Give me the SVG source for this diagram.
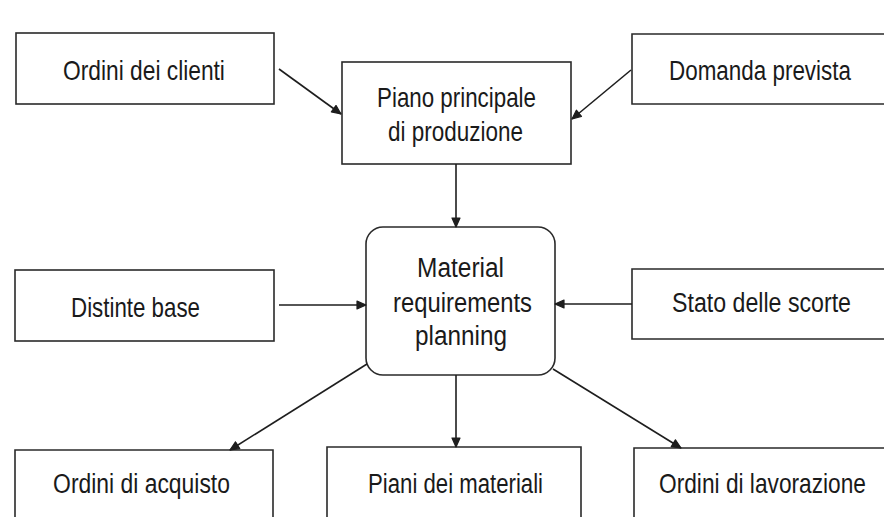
<svg xmlns="http://www.w3.org/2000/svg" width="884" height="517" viewBox="0 0 884 517">
  <defs>
    <marker id="arrow" markerUnits="userSpaceOnUse" markerWidth="11" markerHeight="10" refX="10" refY="5" orient="auto">
      <path d="M1,1 L10,5 L1,9 z" fill="#1e1e1e" stroke="#1e1e1e" stroke-width="1.2" stroke-linejoin="round"/>
    </marker>
    <style>
      .box { fill: #ffffff; stroke: #2a2a2a; stroke-width: 1.6; }
      .lbl { font-family: "Liberation Sans", Arial, sans-serif; font-size: 28px; fill: #1a1a1a; text-anchor: middle; }
      .edge { stroke: #1e1e1e; stroke-width: 1.6; fill: none; marker-end: url(#arrow); }
    </style>
  </defs>

  <rect width="884" height="517" fill="#ffffff"/>

  <!-- labels use a narrowed Liberation Sans (horizontal scale) to get the condensed face -->
  <g id="ordini-clienti">
    <rect class="box" x="16" y="33" width="258" height="71"/>
    <text class="lbl" transform="translate(144 80) scale(0.813 1)">Ordini dei clienti</text>
  </g>

  <g id="piano-principale">
    <rect class="box" x="342" y="62" width="229" height="102"/>
    <text class="lbl" transform="translate(456.5 107) scale(0.798 1)">Piano principale</text>
    <text class="lbl" transform="translate(455.5 141) scale(0.803 1)">di produzione</text>
  </g>

  <!-- boxes on the right and bottom run off the page edge: open outlines -->
  <g id="domanda-prevista">
    <path class="box" d="M884,34 H632 V104 H884"/>
    <text class="lbl" transform="translate(760 80) scale(0.801 1)">Domanda prevista</text>
  </g>

  <g id="distinte-base">
    <rect class="box" x="15" y="270" width="259" height="71"/>
    <text class="lbl" transform="translate(135.5 317) scale(0.797 1)">Distinte base</text>
  </g>

  <g id="mrp">
    <rect class="box" x="366" y="227" width="189" height="148" rx="17" ry="17"/>
    <text class="lbl" transform="translate(460.5 277) scale(0.874 1)">Material</text>
    <text class="lbl" transform="translate(462.5 312) scale(0.851 1)">requirements</text>
    <text class="lbl" transform="translate(461 345) scale(0.869 1)">planning</text>
  </g>

  <g id="stato-scorte">
    <path class="box" d="M884,269 H632 V339 H884"/>
    <text class="lbl" transform="translate(761.5 312) scale(0.827 1)">Stato delle scorte</text>
  </g>

  <g id="ordini-acquisto">
    <path class="box" d="M15,517 V450 H273 V517"/>
    <text class="lbl" transform="translate(141.5 493) scale(0.818 1)">Ordini di acquisto</text>
  </g>

  <g id="piani-materiali">
    <path class="box" d="M327,517 V447 H581 V517"/>
    <text class="lbl" transform="translate(455.5 493) scale(0.792 1)">Piani dei materiali</text>
  </g>

  <g id="ordini-lavorazione">
    <path class="box" d="M634,517 V448 H884"/>
    <text class="lbl" transform="translate(762.5 493) scale(0.811 1)">Ordini di lavorazione</text>
  </g>

  <g id="connectors">
    <line class="edge" x1="279" y1="69" x2="341" y2="114"/>
    <line class="edge" x1="631" y1="70" x2="572" y2="119"/>
    <line class="edge" x1="456" y1="164" x2="456" y2="227"/>
    <line class="edge" x1="279" y1="305" x2="366" y2="305"/>
    <line class="edge" x1="632" y1="304" x2="555" y2="304"/>
    <line class="edge" x1="367" y1="364" x2="230" y2="450"/>
    <line class="edge" x1="456" y1="375" x2="456" y2="447"/>
    <line class="edge" x1="553" y1="369" x2="681" y2="448"/>
  </g>
</svg>
